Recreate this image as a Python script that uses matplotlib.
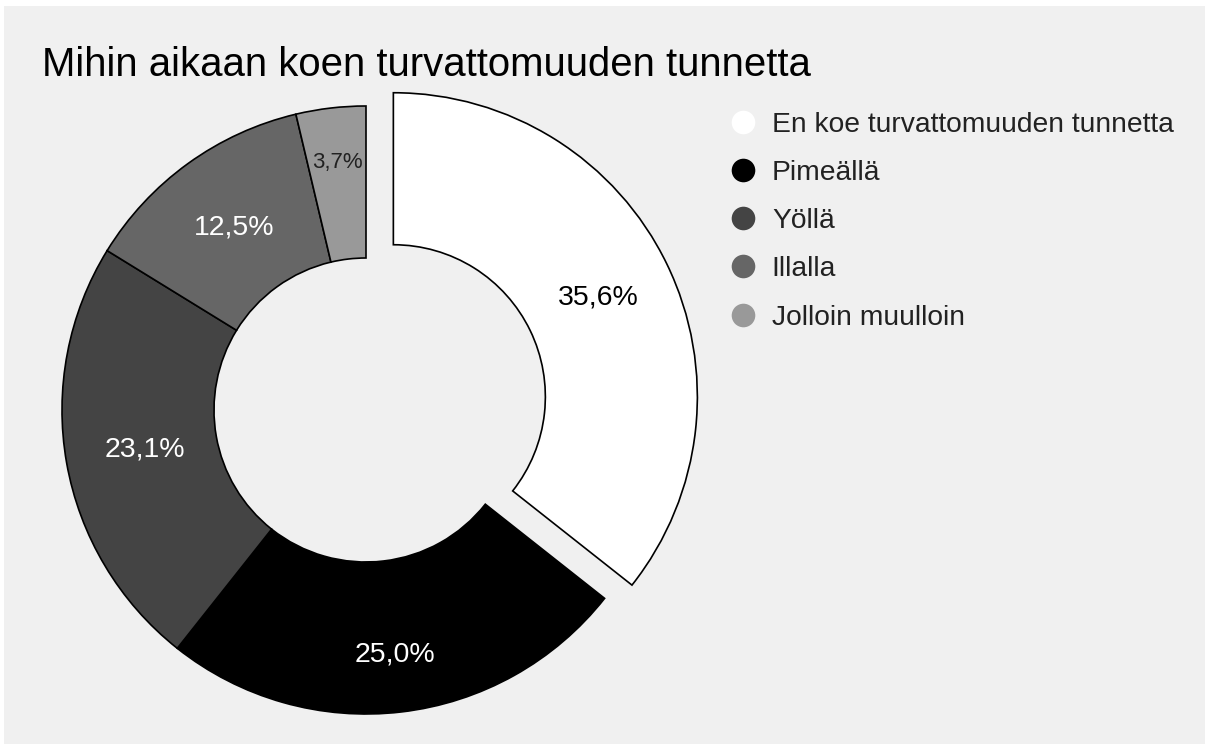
import matplotlib
matplotlib.use("Agg")
import matplotlib.pyplot as plt
from matplotlib.patches import Rectangle
from matplotlib.lines import Line2D
import numpy as np

plt.rcParams['font.family'] = ['Liberation Sans', 'DejaVu Sans']

# data
title = 'Mihin aikaan koen turvattomuuden tunnetta'
labels = ['En koe turvattomuuden tunnetta', 'Pimeällä', 'Yöllä', 'Illalla', 'Jolloin muulloin']
values = [35.6, 25.0, 23.1, 12.5, 3.7]
colors = ['#ffffff', '#000000', '#444444', '#666666', '#999999']
explode = [0.1, 0, 0, 0, 0]

W, H = 1205, 744
fig = plt.figure(figsize=(W / 100, H / 100), dpi=100)
fig.patch.set_facecolor('white')
# grey chart area (small white margin top/left)
fig.patches.append(Rectangle((4 / W, 0), 1, (H - 6) / H, transform=fig.transFigure,
                             facecolor='#f0f0f0', edgecolor='none', zorder=-10))

ax = fig.add_axes([0, 0, 1, 1])
ax.patch.set_alpha(0)

# pie center / radius in pixels
cx, cy, R = 366, 410, 304


def fmt(p):
    return f'{p:.1f}'.replace('.', ',') + '%'


wedges, texts, autotexts = ax.pie(values, colors=colors, explode=explode, startangle=90,
                                  counterclock=False, autopct=fmt, pctdistance=0.75,
                                  wedgeprops=dict(width=0.5, edgecolor='black', linewidth=1.2),
                                  textprops=dict(fontsize=20.5))

ax.set_xlim(-cx / R, (W - cx) / R)
ax.set_ylim(-(H - cy) / R, cy / R)
ax.set_aspect('auto')
ax.axis('off')

# label colours / radii
txt_colors = ['black', 'white', 'white', 'white', '#222222']
txt_radius = [0.75, 0.81, 0.74, 0.74, 0.82]
cum = np.cumsum([0] + values[:-1])
for i, t in enumerate(autotexts):
    t.set_color(txt_colors[i])
    theta = np.deg2rad(90 - (cum[i] + values[i] / 2) / sum(values) * 360)
    off = explode[i]
    t.set_position(((off + txt_radius[i]) * np.cos(theta), (off + txt_radius[i]) * np.sin(theta)))
autotexts[4].set_fontsize(16)

fig.text(42 / W, 1 - 76 / H, title, fontsize=28.9, color='black', va='baseline', ha='left')

handles = [Line2D([], [], marker='o', linestyle='none', markersize=17,
                  markerfacecolor=c, markeredgecolor='none') for c in colors]
fig.legend(handles, labels, loc='upper left', bbox_to_anchor=(729 / W, 1 - 111.5 / H),
           frameon=False, fontsize=20.3, labelcolor='#222222', handlelength=1.0,
           handletextpad=0.52, labelspacing=0.79, borderpad=0, borderaxespad=0)

fig.savefig('out.png', dpi=100, facecolor=fig.get_facecolor())
